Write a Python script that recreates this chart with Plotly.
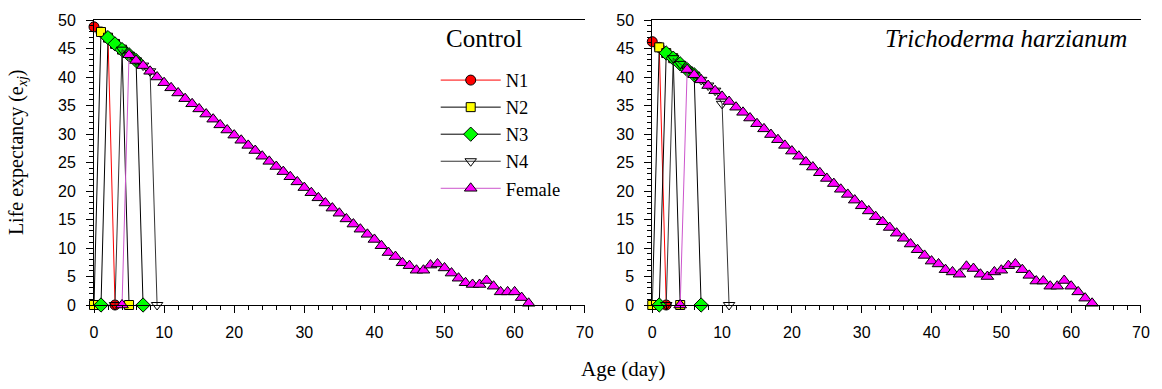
import plotly.graph_objects as go

# ---------------- data: Control ----------------
ctrl_n1_age = [0, 1, 2, 3]
ctrl_n1_e = [48.8, 47.9, 46.9, 0]
ctrl_n2_age = [0, 1, 2, 3, 4, 5]
ctrl_n2_e = [0, 47.9, 46.9, 45.8, 44.8, 0]
ctrl_n3_age = [1, 2, 3, 4, 5, 6, 7]
ctrl_n3_e = [0, 46.9, 45.8, 44.8, 43.9, 42.9, 0]
ctrl_n4_age = [3, 4, 5, 6, 7, 8, 9]
ctrl_n4_e = [0, 44.8, 43.9, 42.9, 42.0, 41.0, 0]
ctrl_f_age = list(range(4, 63))
ctrl_f_e = [0, 43.9, 42.9, 42.0, 41.0, 40.0, 39.0, 38.1, 37.2, 36.2, 35.3, 34.4,
            33.5, 32.6, 31.6, 30.7, 29.8, 28.9, 28.0, 27.1, 26.1, 25.2, 24.3, 23.4,
            22.5, 21.6, 20.6, 19.7, 18.8, 17.9, 17.0, 16.1, 15.1, 14.2, 13.3, 12.4,
            11.5, 10.4, 9.2, 8.5, 7.4, 6.9, 6.1, 6.1, 7.0, 7.2, 6.5, 5.6, 4.7, 3.9,
            3.6, 3.6, 4.3, 3.3, 2.3, 2.3, 2.3, 1.3, 0.3]

# ---------------- data: Trichoderma harzianum ----------------
th_n1_age = [0, 1, 2]
th_n1_e = [46.2, 45.2, 0]
th_n2_age = [0, 1, 2, 3, 4]
th_n2_e = [0, 45.2, 44.2, 43.3, 0]
th_n3_age = [1, 2, 3, 4, 5, 6, 7]
th_n3_e = [0, 44.2, 43.3, 42.3, 41.3, 40.4, 0]
th_n4_age = [2, 3, 4, 5, 6, 7, 8, 9, 10, 11]
th_n4_e = [0, 43.3, 42.3, 41.3, 40.4, 39.5, 38.5, 37.6, 35.3, 0]
th_f_age = list(range(4, 64))
th_f_e = [0, 41.3, 40.4, 39.5, 38.5, 37.6, 36.6, 35.7, 34.7, 33.8, 32.8, 31.8,
          30.9, 29.9, 29.0, 28.0, 27.0, 26.1, 25.1, 24.2, 23.2, 22.2, 21.3, 20.3,
          19.4, 18.4, 17.4, 16.5, 15.5, 14.6, 13.6, 12.6, 11.7, 10.7, 9.7, 8.7,
          7.7, 7.2, 6.2, 5.8, 5.4, 6.8, 6.4, 5.4, 5.0, 5.8, 6.1, 6.9, 7.2, 6.2,
          5.2, 4.2, 4.2, 3.3, 3.3, 4.3, 3.3, 2.3, 1.2, 0.3]

stage_names = ["N1", "N2", "N3", "N4", "Female"]
panel_titles = ["Control", "<i>Trichoderma harzianum</i>"]
x_ticks = [0, 10, 20, 30, 40, 50, 60, 70]
y_ticks = [0, 5, 10, 15, 20, 25, 30, 35, 40, 45, 50]

styles = {
    "N1": dict(line_color="#ff0000", symbol="circle", fill="#ff0000", size=10),
    "N2": dict(line_color="#000000", symbol="square", fill="#ffff00", size=9),
    "N3": dict(line_color="#000000", symbol="diamond", fill="#00ff00", size=11),
    "N4": dict(line_color="#333333", symbol="triangle-down-open", fill="#000000", size=10),
    "Female": dict(line_color="#cc55cc", symbol="triangle-up", fill="#ff00ff", size=11),
}

fig = go.Figure()

panels = [
    ("x", "y", [(ctrl_n1_age, ctrl_n1_e), (ctrl_n2_age, ctrl_n2_e), (ctrl_n3_age, ctrl_n3_e),
                (ctrl_n4_age, ctrl_n4_e), (ctrl_f_age, ctrl_f_e)], True),
    ("x2", "y2", [(th_n1_age, th_n1_e), (th_n2_age, th_n2_e), (th_n3_age, th_n3_e),
                  (th_n4_age, th_n4_e), (th_f_age, th_f_e)], False),
]

for xa, ya, series, show in panels:
    for name, (ages, vals) in zip(stage_names, series):
        st = styles[name]
        if st["symbol"].endswith("open"):
            marker = dict(symbol=st["symbol"], size=st["size"], color="#000000",
                          line=dict(color="#000000", width=1))
        else:
            marker = dict(symbol=st["symbol"], size=st["size"], color=st["fill"],
                          line=dict(color="#000000", width=1))
        fig.add_trace(go.Scatter(
            x=ages, y=vals, mode="lines+markers", name=name,
            xaxis=xa, yaxis=ya, showlegend=show, cliponaxis=False,
            line=dict(color=st["line_color"], width=1),
            marker=marker,
        ))

W, H = 1162, 389
L, R, T, B = 94, 14, 17, 84
pw = W - L - R
ph = H - T - B
d1 = [0, 494 / pw]
d2 = [(656 - L) / pw, 1]


def px_x(px):
    return (px - L) / pw


def px_y(py):
    return (H - B - py) / ph


serif = "Liberation Serif, Times New Roman, serif"
tick_font = dict(family="Liberation Sans, Arial", size=16, color="#000000")
common_x = dict(range=[0, 70], tickvals=x_ticks, showline=True, linecolor="#000000",
                linewidth=1, mirror=True, ticks="outside", ticklen=7, tickwidth=1,
                tickcolor="#000000", showgrid=False, zeroline=False, tickfont=tick_font,
                minor=dict(dtick=2, ticks="outside", ticklen=4, tickcolor="#000000"),
                ticklabelstandoff=6)
common_y = dict(range=[0, 50], tickvals=y_ticks, showline=True, linecolor="#000000",
                linewidth=1, ticks="outside", ticklen=7, tickwidth=1,
                tickcolor="#000000", showgrid=False, zeroline=False, tickfont=tick_font,
                minor=dict(dtick=1, ticks="outside", ticklen=4, tickcolor="#000000"),
                ticklabelstandoff=7)

fig.update_layout(
    width=W, height=H,
    margin=dict(l=L, r=R, t=T, b=B),
    paper_bgcolor="white", plot_bgcolor="white",
    xaxis=dict(domain=d1, anchor="y", **common_x),
    yaxis=dict(domain=[0, 1], anchor="x", **common_y),
    xaxis2=dict(domain=d2, anchor="y2", **common_x),
    yaxis2=dict(domain=[0, 1], anchor="x2", **common_y),
    legend=dict(x=px_x(438), y=px_y(59), xanchor="left", yanchor="top",
                bgcolor="rgba(0,0,0,0)", borderwidth=0, tracegroupgap=0,
                itemwidth=60,
                font=dict(family=serif, size=18.5, color="#000000")),
    annotations=[
        dict(text=panel_titles[0], xref="paper", yref="paper",
             x=px_x(487), y=px_y(36), xanchor="center", yanchor="middle",
             showarrow=False, font=dict(family=serif, size=25, color="#000000")),
        dict(text=panel_titles[1], xref="paper", yref="paper",
             x=px_x(1136), y=px_y(36), xanchor="right", yanchor="middle",
             showarrow=False, font=dict(family=serif, size=25, color="#000000")),
        dict(text="Life expectancy (e<sub><i>xj</i></sub>)", xref="paper", yref="paper",
             x=px_x(17), y=px_y(151), xanchor="center", yanchor="middle",
             textangle=-90, showarrow=False,
             font=dict(family=serif, size=20, color="#000000")),
        dict(text="Age (day)", xref="paper", yref="paper",
             x=px_x(627), y=px_y(370), xanchor="center", yanchor="middle",
             showarrow=False, font=dict(family=serif, size=21, color="#000000")),
    ],
)

fig.write_html("out.html", config={"displayModeBar": False},
               post_script="document.body.style.margin='0';")
